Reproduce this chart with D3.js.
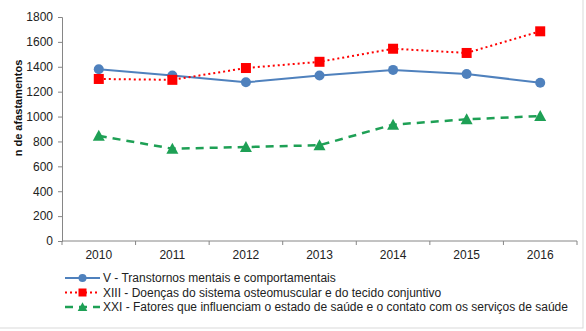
<!DOCTYPE html>
<html>
<head>
<meta charset="utf-8">
<script src="https://cdn.jsdelivr.net/npm/d3@7"></script>
<style>
  body { margin: 0; background: #fff; }
  text { font-family: "Liberation Sans", Arial, sans-serif; }
</style>
</head>
<body>
<div id="chart"></div>
<script>
// data
var years = ["2010", "2011", "2012", "2013", "2014", "2015", "2016"]
var transtornos = [1380, 1330, 1275, 1330, 1375, 1342, 1272]
var osteomuscular = [1302, 1295, 1390, 1440, 1545, 1511, 1685]
var fatores = [845, 742, 755, 770, 935, 978, 1004]
var yTicks = [0, 200, 400, 600, 800, 1000, 1200, 1400, 1600, 1800]

var seriesNames = [
    "V - Transtornos mentais e comportamentais",
    "XIII - Doenças do sistema osteomuscular e do tecido conjuntivo",
    "XXI - Fatores que influenciam o estado de saúde e o contato com os serviços de saúde"
]

var series = [
    { name: seriesNames[0], values: transtornos, color: "#4f81bd", dash: null, width: 2, marker: "circle" },
    { name: seriesNames[1], values: osteomuscular, color: "#ff0000", dash: "2,3", width: 2, marker: "square" },
    { name: seriesNames[2], values: fatores, color: "#1ea055", dash: "8,6", width: 2.5, marker: "triangle" }
]

var W = 586, H = 331
var margin = { top: 17, right: 9, bottom: 90, left: 62 }
var width = W - margin.left - margin.right
var height = H - margin.top - margin.bottom

var svg = d3.select("#chart").append("svg")
    .attr("width", W)
    .attr("height", H)

// faint outer frame
svg.append("rect")
    .attr("x", -1).attr("y", -1)
    .attr("width", 584).attr("height", 329)
    .attr("fill", "none")
    .attr("stroke", "#d9d9d9")

var g = svg.append("g")
    .attr("transform", "translate(" + margin.left + "," + margin.top + ")")

var x = d3.scaleBand().domain(years).range([0, width])
var y = d3.scaleLinear().domain([0, 1800]).range([height, 0])

var axisColor = "#868686"

// y axis
var yAxis = g.append("g")
    .call(d3.axisLeft(y).tickValues(yTicks).tickFormat(d3.format("d")).tickSize(4).tickPadding(5))
yAxis.select(".domain").attr("stroke", axisColor)
yAxis.selectAll(".tick line").attr("stroke", axisColor)
yAxis.selectAll("text").style("font-size", "12px").attr("fill", "#222")

// x axis: ticks between categories
var xAxis = g.append("g")
    .attr("transform", "translate(0," + height + ")")
xAxis.append("line")
    .attr("x1", 0).attr("x2", width)
    .attr("stroke", axisColor)
xAxis.selectAll(".xtick")
    .data(years.concat(["end"]))
    .enter().append("line")
    .attr("x1", function(d, i) { return i * x.step() })
    .attr("x2", function(d, i) { return i * x.step() })
    .attr("y1", 0).attr("y2", 4)
    .attr("stroke", axisColor)
xAxis.selectAll(".xlabel")
    .data(years)
    .enter().append("text")
    .attr("x", function(d) { return x(d) + x.bandwidth() / 2 })
    .attr("y", 18)
    .attr("text-anchor", "middle")
    .style("font-size", "12px")
    .attr("fill", "#222")
    .text(function(d) { return d })

// y title
g.append("text")
    .attr("transform", "translate(" + (-40) + "," + (height / 2 - 21) + ") rotate(-90)")
    .attr("text-anchor", "middle")
    .style("font-size", "11px")
    .style("font-weight", "bold")
    .attr("fill", "#111")
    .text("n de afastamentos")

var line = d3.line()
    .x(function(d, i) { return x(years[i]) + x.bandwidth() / 2 })
    .y(function(d) { return y(d) })

function drawMarker(sel, type, color) {
    if (type === "circle") {
        sel.append("circle").attr("r", 5).attr("fill", color)
    } else if (type === "square") {
        sel.append("rect").attr("x", -5).attr("y", -5)
            .attr("width", 10).attr("height", 10).attr("fill", color)
    } else {
        sel.append("path").attr("d", "M0,-6L6,5L-6,5Z").attr("fill", color)
    }
}

series.forEach(function(s) {
    g.append("path")
        .datum(s.values)
        .attr("d", line)
        .attr("fill", "none")
        .attr("stroke", s.color)
        .attr("stroke-width", s.width)
        .attr("stroke-dasharray", s.dash)

    g.selectAll(null)
        .data(s.values)
        .enter().append("g")
        .attr("transform", function(d, i) {
            return "translate(" + (x(years[i]) + x.bandwidth() / 2) + "," + y(d) + ")"
        })
        .each(function() { drawMarker(d3.select(this), s.marker, s.color) })
})

// legend
var legend = svg.append("g").attr("transform", "translate(65,278)")
series.forEach(function(s, i) {
    var row = legend.append("g").attr("transform", "translate(0," + (i * 14.5) + ")")
    row.append("line")
        .attr("x1", 0).attr("x2", 35)
        .attr("stroke", s.color)
        .attr("stroke-width", s.width)
        .attr("stroke-dasharray", s.dash)
    var m = row.append("g")
    drawMarker(m, s.marker, s.color)
    m.attr("transform", "translate(17.5,0) scale(0.8)")
    row.append("text")
        .attr("x", 38).attr("y", 4)
        .style("font-size", "12px")
        .attr("fill", "#222")
        .text(s.name)
})
</script>
</body>
</html>
